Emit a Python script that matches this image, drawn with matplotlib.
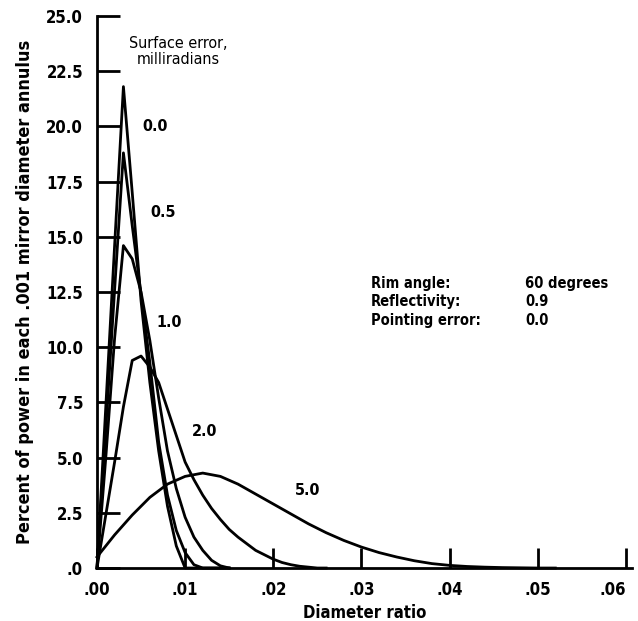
import matplotlib
matplotlib.use("Agg")
import matplotlib.pyplot as plt

# Diameter ratio sample points and percent of power for each surface error (mrad)
x_fine = [0.000, 0.001, 0.002, 0.003, 0.004, 0.005, 0.006, 0.007, 0.008,
          0.009, 0.010, 0.011, 0.012, 0.013, 0.014, 0.015]
y_err00 = [0.0, 7.3, 14.6, 21.8, 17.0, 12.1, 8.4, 5.3, 2.8, 1.0, 0.0,
           0.0, 0.0, 0.0, 0.0, 0.0]
y_err05 = [0.0, 6.3, 12.6, 18.8, 15.5, 12.4, 9.3, 5.7, 3.3, 1.7, 0.7,
           0.15, 0.0, 0.0, 0.0, 0.0]
y_err10 = [0.0, 5.0, 10.4, 14.6, 14.0, 12.5, 10.3, 7.7, 5.3, 3.6, 2.3,
           1.4, 0.8, 0.35, 0.1, 0.0]

x_err20 = [0.000, 0.001, 0.002, 0.003, 0.004, 0.005, 0.006, 0.007, 0.008,
           0.009, 0.010, 0.011, 0.012, 0.013, 0.014, 0.015, 0.016, 0.017,
           0.018, 0.019, 0.020, 0.021, 0.022, 0.023, 0.024, 0.025, 0.026]
y_err20 = [0.0, 2.4, 4.8, 7.3, 9.4, 9.6, 9.1, 8.4, 7.2, 6.0, 4.8, 4.0,
           3.3, 2.7, 2.2, 1.75, 1.4, 1.1, 0.8, 0.6, 0.4, 0.25, 0.15, 0.08,
           0.04, 0.0, 0.0]

x_err50 = [0.000, 0.002, 0.004, 0.006, 0.008, 0.010, 0.012, 0.014, 0.016,
           0.018, 0.020, 0.022, 0.024, 0.026, 0.028, 0.030, 0.032, 0.034,
           0.036, 0.038, 0.040, 0.042, 0.044, 0.046, 0.048, 0.050, 0.052]
y_err50 = [0.5, 1.5, 2.4, 3.2, 3.8, 4.15, 4.3, 4.15, 3.8, 3.35, 2.9, 2.45,
           2.0, 1.6, 1.25, 0.95, 0.7, 0.5, 0.33, 0.2, 0.12, 0.07, 0.04,
           0.02, 0.01, 0.0, 0.0]

x_ticks = [0.00, 0.01, 0.02, 0.03, 0.04, 0.05, 0.06]
x_ticklabels = [".00", ".01", ".02", ".03", ".04", ".05", ".06"]
y_ticks = [0, 2.5, 5, 7.5, 10, 12.5, 15, 17.5, 20, 22.5, 25]
y_ticklabels = [".0", "2.5", "5.0", "7.5", "10.0", "12.5", "15.0",
                "17.5", "20.0", "22.5", "25.0"]

plt.rcParams['font.family'] = ["DejaVu Sans"]
plt.rcParams['font.stretch'] = "condensed"

fig = plt.figure(figsize=(6.38, 6.21), dpi=100)
ax = fig.add_axes([0.152, 0.0853, 0.8386, 0.889])

curves = [
    (x_fine, y_err00),
    (x_fine, y_err05),
    (x_fine, y_err10),
    (x_err20, y_err20),
    (x_err50, y_err50),
]
for xs, ys in curves:
    ax.plot(xs, ys, color="black", linewidth=2.0, clip_on=False,
            solid_joinstyle="round")

ax.set_xlim(0, 0.0607)
ax.set_ylim(0, 25)

for side in ["top", "right"]:
    ax.spines[side].set_visible(False)
for side in ["left", "bottom"]:
    ax.spines[side].set_linewidth(2.0)

ax.set_xticks(x_ticks)
ax.set_xticklabels(x_ticklabels)
ax.set_yticks(y_ticks)
ax.set_yticklabels(y_ticklabels)
ax.tick_params(axis="y", direction="in", length=16.5, width=2.0, pad=10,
               labelsize=12)
ax.tick_params(axis="x", direction="in", length=14.5, width=2.0, pad=9,
               labelsize=12)
for lbl in ax.get_xticklabels() + ax.get_yticklabels():
    lbl.set_fontweight("bold")
ax.get_xticklabels()[-1].set_horizontalalignment("right")
ax.get_xticklabels()[-1].set_x(0.0614)

ax.set_xlabel("Diameter ratio", fontsize=12, fontweight="bold", labelpad=4)
ax.set_ylabel("Percent of power in each .001 mirror diameter annulus",
              fontsize=13, fontweight="bold", labelpad=9)

# Curve labels
ax.text(0.0092, 23.4, "Surface error,\nmilliradians", ha="center",
        va="center", fontsize=11.5, linespacing=1.1)
label_txt = dict(fontsize=11.5, fontweight="bold", ha="left", va="center")
ax.text(0.0052, 20.0, "0.0", **label_txt)
ax.text(0.0061, 16.1, "0.5", **label_txt)
ax.text(0.0068, 11.1, "1.0", **label_txt)
ax.text(0.0108, 6.2, "2.0", **label_txt)
ax.text(0.0225, 3.5, "5.0", **label_txt)

# Parameter block
params = ["Rim angle:", "Reflectivity:", "Pointing error:"]
values = ["60 degrees", "0.9", "0.0"]
for i, (p, v) in enumerate(zip(params, values)):
    ax.text(0.0311, 12.9 - i * 0.84, p, fontsize=10.5, fontweight="bold",
            ha="left", va="center")
    ax.text(0.0486, 12.9 - i * 0.84, v, fontsize=10.5, fontweight="bold",
            ha="left", va="center")

fig.savefig("out.png", dpi=100, facecolor="white")
